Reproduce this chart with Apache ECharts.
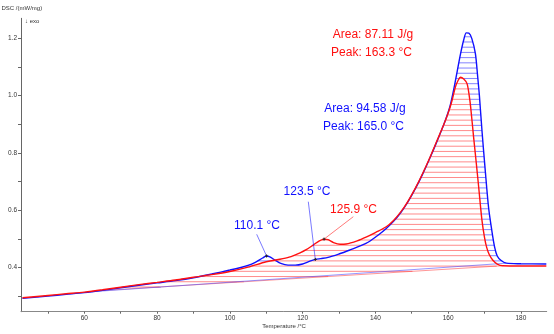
<!DOCTYPE html>
<html><head><meta charset="utf-8">
<script src="https://cdn.jsdelivr.net/npm/echarts@6/dist/echarts.min.js"></script>
<style>html,body{margin:0;padding:0;background:#fff}#c{width:554px;height:334px}</style>
</head><body><div id="c"></div>
<script>
// ---- data ----
const blueT = [43,50,55,60,65,70,75,80,85,90,95,100,103,105,107,109,110.1,111,112.5,114,116,118,120,122,123.5,125,127,130,133,136,138,141,143,145,147,149,151,153,155,157,159,160.5,161.6,162.5,163.4,164.3,165.0,165.7,166.5,167.5,168.1,168.6,169.3,170.2,171.1,172,172.8,173.5,174.5,176,180,187];
const blueV = [0.292,0.300,0.306,0.312,0.320,0.329,0.338,0.346,0.354,0.364,0.377,0.391,0.400,0.407,0.418,0.433,0.440,0.437,0.425,0.414,0.408,0.408,0.412,0.422,0.428,0.431,0.435,0.447,0.461,0.476,0.488,0.515,0.536,0.561,0.592,0.630,0.675,0.726,0.782,0.842,0.905,0.962,1.025,1.085,1.145,1.195,1.219,1.218,1.200,1.147,1.070,1.000,0.879,0.740,0.612,0.530,0.470,0.440,0.425,0.415,0.413,0.412];
const redT = [43,50,55,60,65,70,75,80,85,90,95,100,105,110,113,116.3,119.3,121,123,124.5,125.9,127,128.5,130.3,132,135,137.6,140,143,145,147,149,151,153,155,157,159,160.3,161.1,162,162.7,163.4,164.3,165.2,165.8,166.2,167.0,167.7,168.4,169.3,170.0,170.6,171.3,172.3,173.5,175,180,187];
const redV = [0.294,0.302,0.308,0.314,0.322,0.331,0.340,0.348,0.356,0.366,0.375,0.386,0.401,0.420,0.427,0.436,0.451,0.462,0.479,0.492,0.499,0.497,0.487,0.481,0.482,0.493,0.507,0.522,0.542,0.564,0.594,0.632,0.677,0.728,0.784,0.844,0.905,0.950,0.984,1.030,1.052,1.064,1.058,1.042,1.000,0.960,0.856,0.770,0.681,0.565,0.505,0.470,0.445,0.425,0.412,0.406,0.405,0.405];
const redBaseRange = [62, 175];
const blueBaseRange = [62, 176];
const blueMarkT = [110.1, 123.5];
const blueMarkV = [0.440, 0.428];
const redMarkT = [125.9];
const redMarkV = [0.499];
const xLabelVals = [60,80,100,120,140,160,180];
const xTickVals = [50,60,70,80,90,100,110,120,130,140,150,160,170,180];
const yLabelVals = [0.4,0.6,0.8,1.0,1.2];
const yTickVals = [0.3,0.4,0.5,0.6,0.7,0.8,0.9,1.0,1.1,1.2];
const blueTexts = ['Area: 94.58 J/g','Peak: 165.0 °C'];
const redTexts = ['Area: 87.11 J/g','Peak: 163.3 °C'];

// ---- helpers ----
function interp(T, V, t){
  for(let i=0;i<T.length-1;i++){
    if(t>=T[i] && t<=T[i+1]){ const f=(t-T[i])/(T[i+1]-T[i]); return V[i]+f*(V[i+1]-V[i]); }
  }
  return V[V.length-1];
}
function region(T, V, range){
  const pts=[[range[0], interp(T,V,range[0])]];
  for(let i=0;i<T.length;i++){ if(T[i]>range[0] && T[i]<range[1]) pts.push([T[i],V[i]]); }
  pts.push([range[1], interp(T,V,range[1])]);
  return pts;
}
function hatch(poly, step){
  const segs=[];
  let vmin=Infinity,vmax=-Infinity;
  poly.forEach(p=>{vmin=Math.min(vmin,p[1]);vmax=Math.max(vmax,p[1]);});
  for(let v=0.25+step/2; v<vmax; v+=step){
    if(v<=vmin) continue;
    const xs=[];
    for(let i=0;i<poly.length;i++){
      const a=poly[i], b=poly[(i+1)%poly.length];
      if((a[1]<=v && b[1]>v) || (b[1]<=v && a[1]>v)){
        xs.push(a[0]+(v-a[1])/(b[1]-a[1])*(b[0]-a[0]));
      }
    }
    xs.sort((p,q)=>p-q);
    for(let k=0;k+1<xs.length;k+=2) segs.push([xs[k],xs[k+1],v]);
  }
  return segs;
}
const redPoly = region(redT, redV, redBaseRange);
const bluePoly = region(blueT, blueV, blueBaseRange);
const STEP = 0.0182;
const redHatch = hatch(redPoly, STEP);
const blueHatch = hatch(bluePoly, STEP);
const zip = (a,b)=>a.map((t,i)=>[t,b[i]]);

const RED='#ff1010', BLUE='#1010ff';
const FONT='"Liberation Sans", Arial, sans-serif';

function hatchSeries(segs, color, z){
  return {type:'custom', z:z, silent:true, data:segs, encode:{x:[0,1], y:2},
    renderItem:(params, api)=>{
      const p1=api.coord([api.value(0),api.value(2)]);
      const p2=api.coord([api.value(1),api.value(2)]);
      return {type:'line', shape:{x1:p1[0],y1:p1[1],x2:p2[0],y2:p2[1]}, style:{stroke:color, lineWidth:1}};
    }};
}
// label anchor pixels for connector lines (layout)
const blueAnchors=[[256.7,234.3],[308.3,201.7]];
const redAnchors=[[353.3,216.7]];
function connectorSeries(Ts, Vs, anchors, color, z){
  return {type:'custom', z:z, silent:true, data:Ts.map((t,i)=>[t,Vs[i],i]), encode:{x:0,y:1},
    renderItem:(params, api)=>{
      const p=api.coord([api.value(0),api.value(1)]);
      const a=anchors[api.value(2)];
      return {type:'group', children:[
        {type:'line', shape:{x1:a[0],y1:a[1],x2:p[0],y2:p[1]}, style:{stroke:color,lineWidth:0.8,opacity:0.7}},
        {type:'line', shape:{x1:p[0]-1.5,y1:p[1],x2:p[0]+1.5,y2:p[1]}, style:{stroke:'#222',lineWidth:1}},
        {type:'line', shape:{x1:p[0],y1:p[1]-1.5,x2:p[0],y2:p[1]+1.5}, style:{stroke:'#222',lineWidth:1}}
      ]};
    }};
}

const chart = echarts.init(document.getElementById('c'), null, {renderer:'canvas'});
const option = {
  animation:false,
  backgroundColor:'#fff',
  grid:{left:21, right:7.3, top:18.3, bottom:22.3, outerBoundsMode:'none'},
  xAxis:{type:'value', min:42.6, max:187.1,
    axisLine:{show:true, onZero:false, lineStyle:{color:'#888', width:1}},
    axisTick:{show:true, length:2, customValues:xTickVals, lineStyle:{color:'#666'}},
    axisLabel:{customValues:xLabelVals, fontSize:6.5, fontFamily:FONT, color:'#333', margin:3},
    splitLine:{show:false}},
  yAxis:{type:'value', min:0.2455, max:1.27,
    axisLine:{show:true, onZero:false, lineStyle:{color:'#666', width:1}},
    axisTick:{show:true, length:3, customValues:yTickVals, lineStyle:{color:'#666'}},
    axisLabel:{customValues:yLabelVals, fontSize:6.5, fontFamily:FONT, color:'#333', margin:4,
      formatter:v=>v.toFixed(1)},
    splitLine:{show:false}},
  graphic:[
    {type:'text', x:1.5, y:8, style:{text:'DSC /(mW/mg)', font:'6px '+FONT, fill:'#333', textVerticalAlign:'middle'}},
    {type:'text', x:25, y:21, style:{text:'↓ exo', font:'6px '+FONT, fill:'#333', textVerticalAlign:'middle'}},
    {type:'text', x:284, y:326, style:{text:'Temperature /°C', font:'6px '+FONT, fill:'#333', textAlign:'center', textVerticalAlign:'middle'}},
    {type:'text', x:373, y:35, style:{text:redTexts[0], font:'12px '+FONT, fill:RED, textAlign:'center', textVerticalAlign:'middle'}},
    {type:'text', x:371.5, y:53, style:{text:redTexts[1], font:'12px '+FONT, fill:RED, textAlign:'center', textVerticalAlign:'middle'}},
    {type:'text', x:365, y:109, style:{text:blueTexts[0], font:'12px '+FONT, fill:BLUE, textAlign:'center', textVerticalAlign:'middle'}},
    {type:'text', x:363.5, y:127, style:{text:blueTexts[1], font:'12px '+FONT, fill:BLUE, textAlign:'center', textVerticalAlign:'middle'}},
    {type:'text', x:257, y:226, style:{text:blueMarkT[0].toFixed(1)+' °C', font:'12px '+FONT, fill:BLUE, textAlign:'center', textVerticalAlign:'middle'}},
    {type:'text', x:307, y:192, style:{text:blueMarkT[1].toFixed(1)+' °C', font:'12px '+FONT, fill:BLUE, textAlign:'center', textVerticalAlign:'middle'}},
    {type:'text', x:353.5, y:210, style:{text:redMarkT[0].toFixed(1)+' °C', font:'12px '+FONT, fill:RED, textAlign:'center', textVerticalAlign:'middle'}}
  ],
  series:[
    hatchSeries(blueHatch, 'rgba(90,90,255,0.75)', 1),
    {type:'custom', z:2, silent:true, data:[[redPoly[0][0], redPoly[0][1]]], encode:{x:0,y:1},
      renderItem:(params, api)=>({type:'polygon', shape:{points:redPoly.map(p=>api.coord(p))}, style:{fill:'#fff', stroke:null}})},
    hatchSeries(redHatch, 'rgba(255,90,90,0.7)', 3),
    {type:'line', z:4, silent:true, symbol:'none', data:[redPoly[0], redPoly[redPoly.length-1]], lineStyle:{color:'rgba(255,80,80,0.6)', width:1}},
    {type:'line', z:4, silent:true, symbol:'none', data:[bluePoly[0], bluePoly[bluePoly.length-1]], lineStyle:{color:'rgba(80,80,255,0.6)', width:1}},
    {type:'line', z:5, silent:true, symbol:'none', smooth:0.3, data:zip(blueT, blueV), lineStyle:{color:BLUE, width:1.4}},
    {type:'line', z:6, silent:true, symbol:'none', smooth:0.3, data:zip(redT, redV), lineStyle:{color:RED, width:1.4}},
    connectorSeries(blueMarkT, blueMarkV, blueAnchors, BLUE, 7),
    connectorSeries(redMarkT, redMarkV, redAnchors, RED, 7)
  ]
};
chart.setOption(option);
</script></body></html>
